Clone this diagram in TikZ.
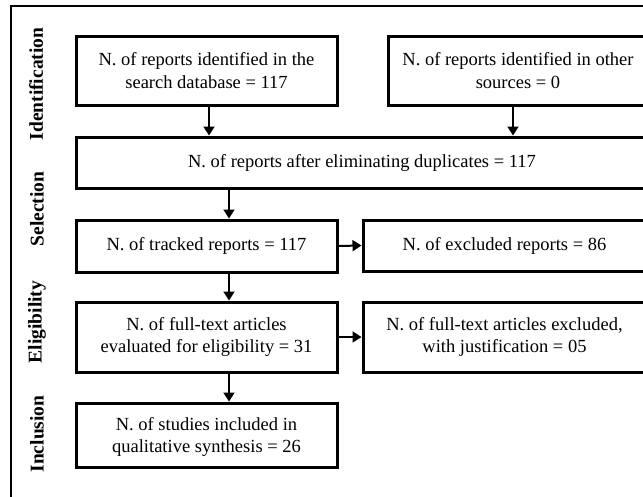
\documentclass[tikz,border=0pt]{standalone}
\usepackage{fontspec}
\setmainfont{Liberation Serif}
\usetikzlibrary{arrows.meta}
\begin{document}
\begin{tikzpicture}[x=1pt,y=-1pt,
  box/.style={draw, line width=3pt, align=center, font=\fontsize{18.5}{22.5}\selectfont, inner sep=0pt},
  side/.style={rotate=90, inner sep=0pt, font=\fontsize{19.5}{22}\selectfont\bfseries},
  arr/.style={-{Triangle[length=9pt,width=11pt]}, line width=2pt},
  frame/.style={line width=1.5pt}]
\useasboundingbox (0,0) rectangle (643,496);
\clip (0,0) rectangle (643,496);
\coordinate (fa) at (11,500);
\coordinate (fb) at (11,6);
\coordinate (fc) at (660,6);
\draw[frame] (fa) -- (fb) -- (fc);

\node[side] (l1) at (36,84) {Identification};
\node[side] (l2) at (37,209) {Selection};
\node[side] (l3) at (37,322) {Eligibility};
\node[side] (l4) at (37,434) {Inclusion};

\node[box, minimum width=261, minimum height=69] (b1) at (206.5,70.5) {N. of reports identified in the\\search database = 117};
\node[box, minimum width=260, minimum height=69] (b2) at (518,70.5) {N. of reports identified in other\\sources = 0};
\node[box, minimum width=572, minimum height=51] (b3) at (362,162.5) {N. of reports after eliminating duplicates = 117};
\node[box, minimum width=261, minimum height=52] (b4) at (206.5,246) {N. of tracked reports = 117};
\node[box, minimum width=283, minimum height=51] (b5) at (504.5,245.5) {N. of excluded reports = 86};
\node[box, minimum width=261, minimum height=70] (b6) at (206.5,337) {N. of full-text articles\\evaluated for eligibility = 31};
\node[box, minimum width=283, minimum height=70] (b7) at (504.5,337) {N. of full-text articles excluded,\\with justification = 05};
\node[box, minimum width=261, minimum height=64, text depth=-12pt] (b8) at (206.5,435) {N. of studies included in\\qualitative synthesis = 26};

\coordinate (x1) at (209,0);
\coordinate (x2) at (513,0);
\coordinate (x3) at (229,0);
\draw[arr] (x1 |- b1.south) -- (x1 |- b3.north);
\draw[arr] (x2 |- b2.south) -- (x2 |- b3.north);
\draw[arr] (x3 |- b3.south) -- (x3 |- b4.north);
\draw[arr] (x3 |- b4.south) -- (x3 |- b6.north);
\draw[arr] (x3 |- b6.south) -- (x3 |- b8.north);
\draw[arr] (b4.east) -- (b5.west);
\draw[arr] (b6.east) -- (b7.west);
\end{tikzpicture}
\end{document}
